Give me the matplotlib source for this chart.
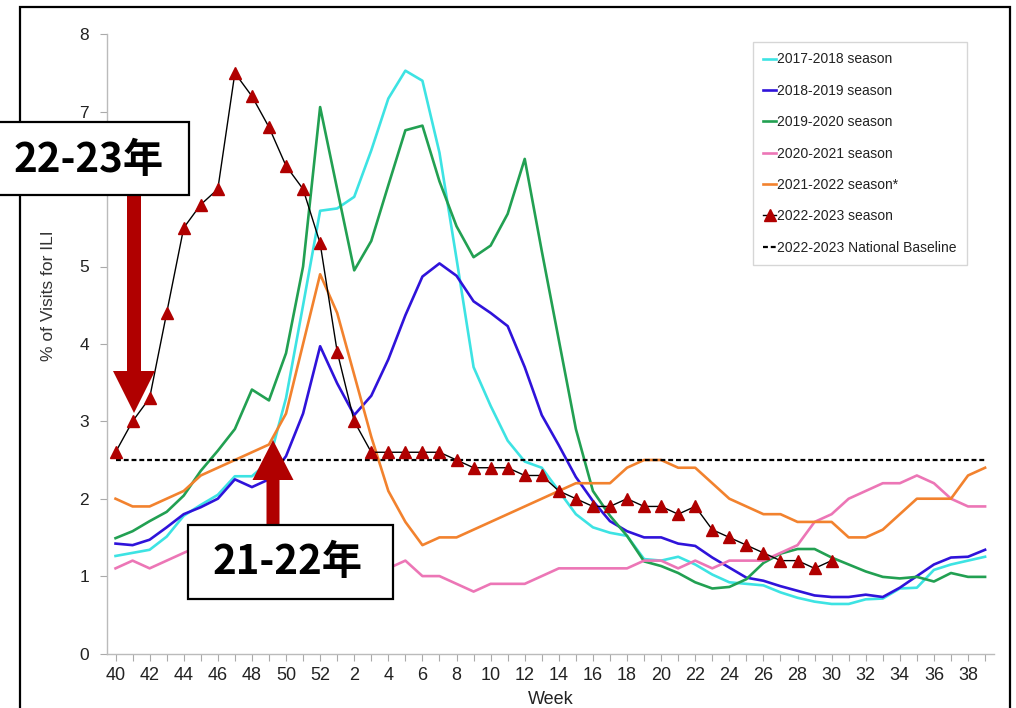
"""
ILI weekly percentage by season with Japanese annotations
"""
import matplotlib
matplotlib.use('Agg')
import matplotlib.pyplot as plt
from matplotlib.patches import Rectangle, Polygon
import numpy as np

plt.rcParams.update({
    'font.family': ['Liberation Sans', 'DejaVu Sans'],
    'axes.linewidth': 1.0,
})

W, H = 1016, 708

# ── Data ────────────────────────────────────────────────────
weeks = list(range(40, 53)) + list(range(1, 40))

s1718 = [1.26, 1.30, 1.34, 1.51, 1.78, 1.92, 2.05, 2.29, 2.29, 2.48, 3.3, 4.5, 5.72,
         5.75, 5.9, 6.5, 7.17, 7.53, 7.4, 6.47, 5.1, 3.7, 3.2, 2.75, 2.48, 2.4, 2.1,
         1.8, 1.63, 1.56, 1.52, 1.22, 1.2, 1.25, 1.15, 1.02, 0.92, 0.9, 0.88, 0.79,
         0.72, 0.67, 0.64, 0.64, 0.7, 0.71, 0.84, 0.85, 1.08, 1.15, 1.2, 1.25]
s1819 = [1.42, 1.40, 1.47, 1.63, 1.80, 1.89, 2.0, 2.25, 2.15, 2.25, 2.55, 3.1, 3.97,
         3.49, 3.08, 3.33, 3.8, 4.37, 4.87, 5.04, 4.88, 4.55, 4.4, 4.23, 3.7, 3.08,
         2.69, 2.28, 1.97, 1.71, 1.58, 1.5, 1.5, 1.42, 1.39, 1.24, 1.11, 0.98, 0.94,
         0.87, 0.81, 0.75, 0.73, 0.73, 0.76, 0.73, 0.85, 1.0, 1.15, 1.24, 1.25, 1.34]
s1920 = [1.49, 1.58, 1.71, 1.83, 2.04, 2.36, 2.62, 2.9, 3.41, 3.27, 3.88, 5.0, 7.06,
         6.0, 4.95, 5.33, 6.05, 6.76, 6.82, 6.1, 5.52, 5.12, 5.27, 5.68, 6.39, 5.2,
         4.05, 2.9, 2.1, 1.78, 1.52, 1.19, 1.13, 1.04, 0.92, 0.84, 0.86, 0.96, 1.17,
         1.29, 1.35, 1.35, 1.24, 1.15, 1.06, 0.99, 0.97, 0.99, 0.93, 1.04, 0.99, 0.99]
s2021 = [1.1, 1.2, 1.1, 1.2, 1.3, 1.4, 1.4, 1.5, 1.4, 1.3, 1.3, 1.2, 1.3,
         1.2, 1.1, 1.1, 1.1, 1.2, 1.0, 1.0, 0.9, 0.8, 0.9, 0.9, 0.9, 1.0, 1.1, 1.1,
         1.1, 1.1, 1.1, 1.2, 1.2, 1.1, 1.2, 1.1, 1.2, 1.2, 1.2, 1.3, 1.4, 1.7, 1.8,
         2.0, 2.1, 2.2, 2.2, 2.3, 2.2, 2.0, 1.9, 1.9]
s2122 = [2.0, 1.9, 1.9, 2.0, 2.1, 2.3, 2.4, 2.5, 2.6, 2.7, 3.1, 4.0, 4.9,
         4.4, 3.6, 2.8, 2.1, 1.7, 1.4, 1.5, 1.5, 1.6, 1.7, 1.8, 1.9, 2.0, 2.1, 2.2,
         2.2, 2.2, 2.4, 2.5, 2.5, 2.4, 2.4, 2.2, 2.0, 1.9, 1.8, 1.8, 1.7, 1.7, 1.7,
         1.5, 1.5, 1.6, 1.8, 2.0, 2.0, 2.0, 2.3, 2.4]
s2223 = [2.6, 3.0, 3.3, 4.4, 5.5, 5.8, 6.0, 7.5, 7.2, 6.8, 6.3, 6.0, 5.3,
         3.9, 3.0, 2.6, 2.6, 2.6, 2.6, 2.6, 2.5, 2.4, 2.4, 2.4, 2.3, 2.3, 2.1, 2.0,
         1.9, 1.9, 2.0, 1.9, 1.9, 1.8, 1.9, 1.6, 1.5, 1.4, 1.3, 1.2, 1.2, 1.1, 1.2]
baseline = 2.5

seasons = ['2017-2018 season', '2018-2019 season', '2019-2020 season',
           '2020-2021 season', '2021-2022 season*']
colors = ['#3DE3E3', '#2F13DA', '#22A052', '#EC76B6', '#F2822E']
DARKRED = '#B00000'


def fx(px):
    return px / W


def fy(py):
    return 1 - py / H


# ── Figure ──────────────────────────────────────────────────
fig = plt.figure(figsize=(W / 100, H / 100), dpi=100)
ax = fig.add_axes([fx(107), fy(653.5), fx(993.6) - fx(107), fy(34.3) - fy(653.5)])

x = np.arange(len(weeks))
for vals, lab, c in zip([s1718, s1819, s1920, s2021, s2122], seasons, colors):
    ax.plot(x, vals, color=c, lw=1.9, label=lab, zorder=2)
ax.plot(np.arange(len(s2223)), s2223, color='black', lw=1.0, marker='^',
        markersize=8.5, markerfacecolor=DARKRED, markeredgecolor=DARKRED,
        label='2022-2023 season', zorder=4)
ax.plot([x[0], x[-1]], [baseline, baseline], color='black', lw=1.6,
        dashes=(2.2, 1.3), label='2022-2023 National Baseline', zorder=3)

ax.set_xlim(-0.5, 51.5)
ax.set_ylim(0, 8)
ax.set_yticks(range(0, 9))
ax.set_xticks(x)
ax.set_xticklabels([str(w) if i % 2 == 0 else '' for i, w in enumerate(weeks)])
for lbl in ax.get_xticklabels() + ax.get_yticklabels():
    lbl.set_color('#222222')
ax.tick_params(axis='x', labelsize=13, length=5, color='#AAAAAA', pad=5)
ax.tick_params(axis='y', labelsize=12.5, length=5, color='#AAAAAA', pad=8)
for s in ['top', 'right']:
    ax.spines[s].set_visible(False)
for s in ['left', 'bottom']:
    ax.spines[s].set_color('#BBBBBB')

ax.set_xlabel('Week', fontsize=13, color='#222222', labelpad=5)
ax.set_ylabel('% of Visits for ILI', fontsize=12.5, color='#333333')
ax.yaxis.set_label_coords((56 - 107) / 886.6, (653.5 - 296) / 619.2)

leg = ax.legend(loc='upper left', bbox_to_anchor=((753 - 107) / 886.6, (653.5 - 42) / 619.2),
                fontsize=10, handlelength=0.9, handletextpad=0.1, labelspacing=1.25,
                borderpad=0.75, borderaxespad=0, frameon=True, fancybox=False)
leg.get_frame().set_edgecolor('#CCCCCC')
leg.get_frame().set_linewidth(1.0)
for t in leg.get_texts():
    t.set_color('#222222')

# ── Annotations ─────────────────────────────────────────────
jp = ['Noto Sans CJK JP', 'DejaVu Sans']

# outer frame
fig.patches.append(Rectangle((fx(20), fy(760)), fx(1010) - fx(20), fy(7) - fy(760),
                             transform=fig.transFigure, fill=False, edgecolor='black',
                             linewidth=1.6, zorder=10))


def arrow(xc, y_start, y_base, y_tip, shaft_w, head_w):
    pts = [(xc - shaft_w / 2, y_start), (xc + shaft_w / 2, y_start),
           (xc + shaft_w / 2, y_base), (xc + head_w / 2, y_base), (xc, y_tip),
           (xc - head_w / 2, y_base), (xc - shaft_w / 2, y_base)]
    fig.patches.append(Polygon([(fx(a), fy(b)) for a, b in pts], closed=True,
                               transform=fig.transFigure, facecolor=DARKRED,
                               edgecolor='none', zorder=11))


arrow(134, 195, 371, 413, 14, 42)
arrow(273, 525, 480, 440, 13, 41)

fig.patches.append(Rectangle((fx(-5), fy(195)), fx(189) + 5 / W, fy(122) - fy(195),
                             transform=fig.transFigure, facecolor='white', edgecolor='black',
                             linewidth=1.6, zorder=12))
fig.text(fx(89), fy(160), '22-23年', ha='center', va='center', fontsize=29,
         fontweight='bold', family=jp, color='black', zorder=13)
fig.patches.append(Rectangle((fx(188), fy(599)), fx(393) - fx(188), fy(525) - fy(599),
                             transform=fig.transFigure, facecolor='white', edgecolor='black',
                             linewidth=1.6, zorder=12))
fig.text(fx(288), fy(563), '21-22年', ha='center', va='center', fontsize=29,
         fontweight='bold', family=jp, color='black', zorder=13)

fig.savefig('out.png', dpi=100)
print('Saved: out.png')
